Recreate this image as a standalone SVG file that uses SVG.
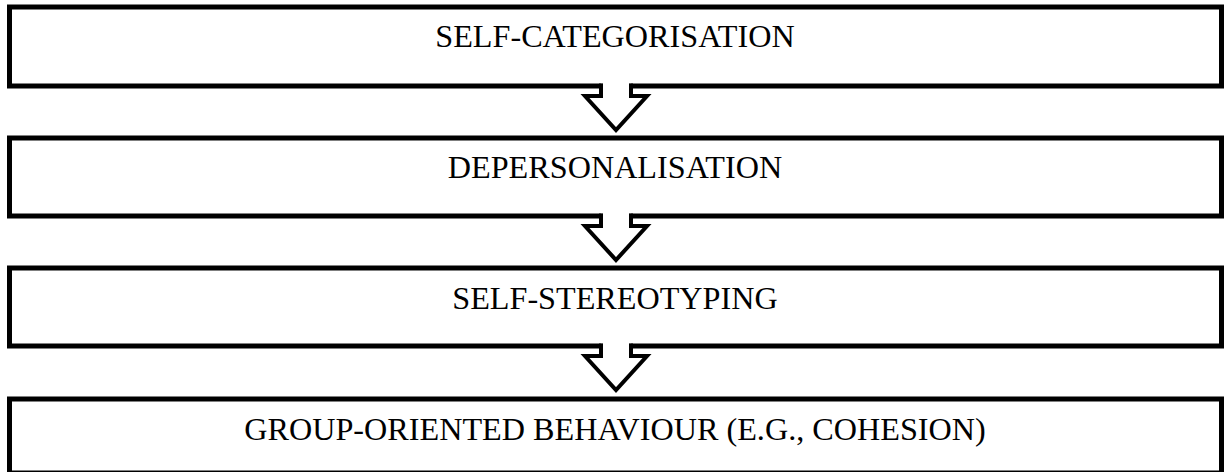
<svg xmlns="http://www.w3.org/2000/svg" width="1224" height="472" viewBox="0 0 1224 472">
<style>
.box{fill:#fff;stroke:#000;stroke-width:5}
.arr{fill:#fff;stroke:#000;stroke-width:4;stroke-linejoin:miter}
.gap{fill:#fff;stroke:none}
.lbl{font-family:"Liberation Serif","Times New Roman",serif;font-size:32.2px;fill:#000;text-anchor:middle}
</style>
<rect width="1224" height="472" fill="#fff"/>
<g id="n1"><rect class="box" x="9.5" y="7" width="1212" height="79"/><text class="lbl" x="615" y="47">SELF-CATEGORISATION</text></g>
<g id="n2"><rect class="box" x="9.5" y="138" width="1212" height="78"/><text class="lbl" x="615" y="178">DEPERSONALISATION</text></g>
<g id="n3"><rect class="box" x="9.5" y="268" width="1212" height="78"/><text class="lbl" x="615" y="309">SELF-STEREOTYPING</text></g>
<g id="n4"><rect class="box" x="9.5" y="399" width="1212" height="74"/><text class="lbl" x="615" y="440">GROUP-ORIENTED BEHAVIOUR (E.G., COHESION)</text></g>
<g id="connectors">
<path class="arr" d="M601,83.5 V96 H585 L616,130 L647,96 H631 V83.5"/>
<rect class="gap" x="603" y="83" width="26" height="12"/>
<path class="arr" d="M601,213.5 V226 H585 L616,260 L647,226 H631 V213.5"/>
<rect class="gap" x="603" y="213" width="26" height="12"/>
<path class="arr" d="M601,343.5 V356 H585 L616,390 L647,356 H631 V343.5"/>
<rect class="gap" x="603" y="343" width="26" height="12"/>
</g>
</svg>
